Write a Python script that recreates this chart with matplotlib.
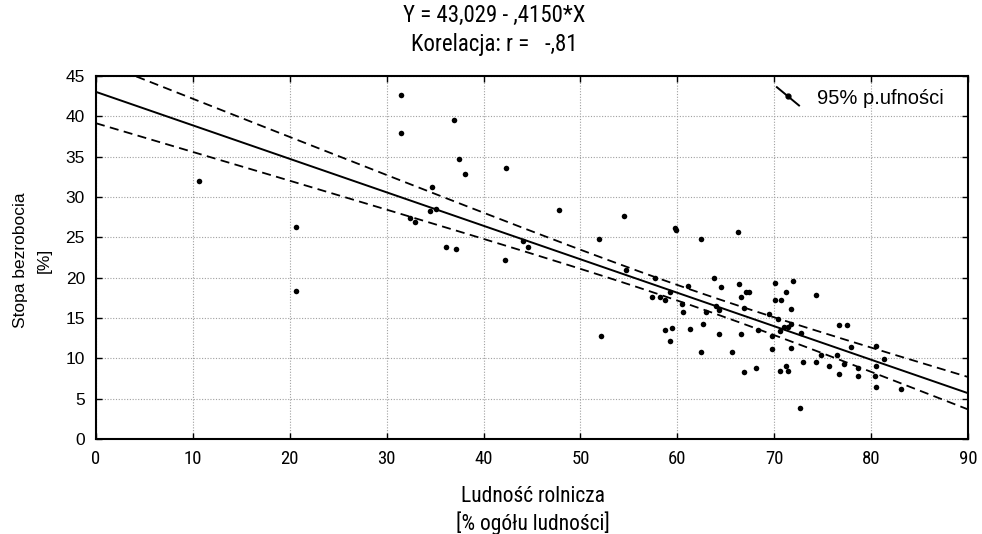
import numpy as np
import matplotlib
matplotlib.use("Agg")
import matplotlib.pyplot as plt
from matplotlib.lines import Line2D
from matplotlib.legend_handler import HandlerBase
from matplotlib import font_manager

# ---- data ----
ludnosc_rolnicza = [
    10.6, 20.6, 20.6, 31.45, 31.45, 36.9, 37.5, 38.05, 34.65, 34.5,
    35.1, 32.4, 32.9, 36.1, 37.2, 42.35, 42.2, 44.1, 44.6, 47.8,
    51.9, 52.1, 54.5, 54.7, 59.8, 59.9, 57.7, 57.4, 58.2, 58.7,
    59.2, 58.7, 59.5, 59.2, 62.4, 66.3, 63.8, 61.1, 64.5, 66.4,
    67.1, 67.4, 66.6, 70.1, 71.9, 71.2, 70.1, 70.7, 74.3, 60.45,
    60.6, 63.0, 64.0, 64.3, 66.9, 69.5, 70.4, 71.7, 71.7, 71.0,
    71.4, 70.6, 72.8, 69.8, 68.35, 66.6, 64.3, 61.3, 62.7, 62.4,
    65.6, 66.9, 68.15, 69.8, 71.7, 70.55, 71.2, 71.4, 72.95, 74.3,
    74.8, 76.5, 75.7, 76.7, 77.5, 77.9, 80.5, 81.3, 77.2, 76.7,
    78.6, 78.6, 80.5, 80.4, 80.5, 83.1, 72.7,
]
stopa_bezrobocia = [
    32.0, 26.3, 18.4, 42.6, 37.9, 39.5, 34.7, 32.8, 31.2, 28.3,
    28.55, 27.4, 26.9, 23.75, 23.55, 33.6, 22.2, 24.5, 23.75, 28.4,
    24.75, 12.8, 27.7, 21.0, 26.1, 25.9, 20.0, 17.6, 17.6, 17.2,
    18.2, 13.55, 13.75, 12.2, 24.75, 25.7, 19.9, 19.0, 18.8, 19.2,
    18.2, 18.2, 17.6, 19.4, 19.6, 18.2, 17.2, 17.2, 17.8, 16.7,
    15.7, 15.7, 16.5, 16.0, 16.3, 15.5, 14.9, 16.1, 14.3, 13.9,
    13.9, 13.35, 13.2, 12.8, 13.55, 13.0, 13.0, 13.6, 14.3, 10.8,
    10.8, 8.35, 8.8, 11.15, 11.3, 8.4, 9.0, 8.4, 9.6, 9.6,
    10.4, 10.4, 9.0, 14.1, 14.1, 11.35, 11.55, 9.95, 9.3, 8.05,
    8.8, 7.85, 9.05, 7.8, 6.4, 6.2, 3.9,
]
intercept = 43.029
slope = -0.4150
korelacja = "-,81"
x_ticks = [0, 10, 20, 30, 40, 50, 60, 70, 80, 90]
y_ticks = [0, 5, 10, 15, 20, 25, 30, 35, 40, 45]

x = np.array(ludnosc_rolnicza)
y = np.array(stopa_bezrobocia)

# regression line and 95% confidence band of the mean
xx = np.linspace(0, 90, 200)
yy = intercept + slope * xx
n = len(x)
resid = y - (intercept + slope * x)
s = np.sqrt(np.sum(resid ** 2) / (n - 2))
sxx = np.sum((x - x.mean()) ** 2)
t = 1.985
half = t * s * np.sqrt(1.0 / n + (xx - x.mean()) ** 2 / sxx)

# pick a narrow font if one is installed
names = {f.name for f in font_manager.fontManager.ttflist}
narrow_name = None
for cand in ['Liberation Sans Narrow', 'Arial Narrow', 'Roboto Condensed',
             'Open Sans Condensed', 'DejaVu Sans Condensed']:
    if cand in names:
        narrow_name = cand
        break
regular = ['Liberation Sans', 'DejaVu Sans']
if narrow_name:
    narrow = [narrow_name, 'Liberation Sans', 'DejaVu Sans']
    sz_title, sz_xlab, sz_xtick = 16.5, 15.5, 13.5
else:
    narrow = regular
    sz_title, sz_xlab, sz_xtick = 14.5, 14, 13
plt.rcParams['font.family'] = regular

fig = plt.figure(figsize=(9.82, 5.34), dpi=100)
ax = fig.add_axes([96 / 982, 1 - 439 / 534, (968 - 96) / 982, (439 - 76) / 534])

ax.plot(xx, yy, color='black', lw=1.4)
ax.plot(xx, yy + half, color='black', lw=1.3, ls=(0, (5, 3)))
ax.plot(xx, yy - half, color='black', lw=1.3, ls=(0, (5, 3)))
ax.scatter(x, y, s=16, color='black', zorder=3, linewidths=0)

ax.set_xlim(0, 90)
ax.set_ylim(0, 45)
ax.set_xticks(x_ticks)
ax.set_yticks(y_ticks)
ax.set_xticklabels([str(v) for v in x_ticks], family=narrow, fontsize=sz_xtick)
ax.set_yticklabels([str(v) for v in y_ticks], family=regular, fontsize=12.5)
ax.grid(True, color='#a0a0a0', ls=(0, (1, 1.5)), lw=0.8)
ax.tick_params(direction='in', length=4, width=1, top=True, right=True, pad=8)
for sp in ax.spines.values():
    sp.set_linewidth(1.5)

fig.text(494 / 982, 1 - 15 / 534, "Y = 43,029 - ,4150*X", ha='center', va='center',
         family=narrow, fontsize=sz_title)
fig.text(494 / 982, 1 - 45 / 534, "Korelacja: r =   " + korelacja, ha='center', va='center',
         family=narrow, fontsize=sz_title)
fig.text(533 / 982, 1 - 497 / 534, "Ludność rolnicza", ha='center', va='center',
         family=narrow, fontsize=sz_xlab)
fig.text(533 / 982, 1 - 523 / 534, "[% ogółu ludności]", ha='center', va='center',
         family=narrow, fontsize=sz_xlab)
fig.text(21 / 982, 1 - 260 / 534, "Stopa bezrobocia", ha='center', va='center',
         rotation=90, family=regular, fontsize=12.5)
fig.text(44 / 982, 1 - 260 / 534, "[%]", ha='center', va='center',
         rotation=90, family=regular, fontsize=12.5)


class DiagHandler(HandlerBase):
    def create_artists(self, legend, orig_handle, xdescent, ydescent, width, height,
                       fontsize, trans):
        x0, x1 = -xdescent, -xdescent + width
        y0, y1 = -ydescent + height * 1.2, -ydescent - height * 0.1
        l = Line2D([x0, x1], [y0, y1], color='black', lw=1.4, transform=trans)
        m = Line2D([(x0 + x1) / 2], [(y0 + y1) / 2], marker='o', ms=3.5, color='black',
                   ls='none', transform=trans)
        return [l, m]


h = Line2D([], [], color='black')
leg = ax.legend([h], ["95% p.ufności"], handler_map={Line2D: DiagHandler()},
                loc='upper right', frameon=False, handlelength=1.1, handletextpad=0.9,
                prop={'family': regular, 'size': 14.5}, borderaxespad=0.25,
                bbox_to_anchor=(1 - 11 / 872, 1))

fig.savefig("out.png", dpi=100)
